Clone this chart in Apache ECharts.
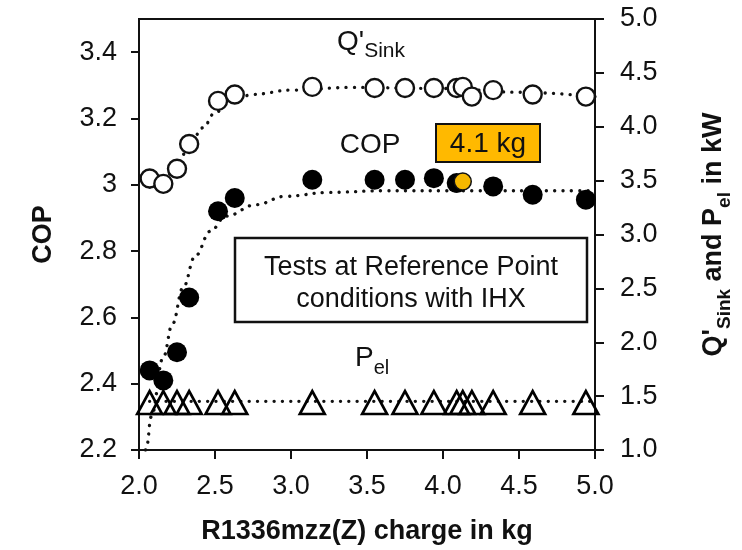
<!DOCTYPE html>
<html>
<head>
<meta charset="utf-8">
<script src="https://cdn.jsdelivr.net/npm/echarts@6/dist/echarts.min.js"></script>
<style>
  html, body { margin: 0; padding: 0; background: #fff; }
  #chart { width: 742px; height: 550px; }
</style>
</head>
<body>
<div id="chart"></div>
<script>
// measured points (charge in kg)
const charge = [2.07, 2.16, 2.25, 2.33, 2.52, 2.63, 3.14, 3.55, 3.75, 3.94, 4.09, 4.13, 4.19, 4.33, 4.59, 4.94]
const qSink = [3.52, 3.47, 3.61, 3.84, 4.24, 4.30, 4.37, 4.36, 4.36, 4.36, 4.36, 4.37, 4.28, 4.34, 4.30, 4.28]
const cop = [2.44, 2.41, 2.495, 2.66, 2.92, 2.96, 3.015, 3.015, 3.015, 3.02, 3.005, 3.01, null, 2.995, 2.97, 2.955]
const pEl = [1.44, 1.44, 1.44, 1.44, 1.44, 1.44, 1.44, 1.44, 1.44, 1.44, 1.44, 1.44, 1.44, 1.44, 1.44, 1.44]
const refIndex = 11 // the 4.1 kg point

// dotted trend lines
const qFitX = [2.07, 2.16, 2.25, 2.33, 2.42, 2.5, 2.6, 2.75, 3.0, 3.4, 4.0, 4.5, 5.0]
const qFitY = [3.44, 3.50, 3.64, 3.82, 3.99, 4.13, 4.23, 4.30, 4.34, 4.365, 4.355, 4.32, 4.28]
const copFitX = [2.03, 2.05, 2.08, 2.16, 2.22, 2.29, 2.37, 2.47, 2.57, 2.77, 2.96, 3.25, 3.6, 4.2, 4.8, 5.0]
const copFitY = [2.15, 2.21, 2.30, 2.48, 2.58, 2.69, 2.785, 2.86, 2.905, 2.94, 2.965, 2.977, 2.982, 2.982, 2.982, 2.982]
const pelFitX = [2.07, 5.0]
const pelFitY = [1.452, 1.452]

// axis ticks
const chargeTicks = [2.0, 2.5, 3.0, 3.5, 4.0, 4.5, 5.0]
const copTicks = [2.2, 2.4, 2.6, 2.8, 3.0, 3.2, 3.4]
const kwTicks = [1.0, 1.5, 2.0, 2.5, 3.0, 3.5, 4.0, 4.5, 5.0]

const font = "'Liberation Sans', Arial, sans-serif"
const ink = '#111'

const zip = (xs, ys) => xs.map((x, i) => [x, ys[i]])

const dotted = {
  color: ink,
  width: 3.3,
  type: [0.1, 8.2],
  cap: 'round'
}

const fitLine = (name, xs, ys, axis) => ({
  name,
  type: 'line',
  yAxisIndex: axis,
  data: zip(xs, ys),
  smooth: 0.4,
  smoothMonotone: 'x',
  showSymbol: false,
  symbol: 'none',
  lineStyle: dotted,
  z: 2,
  silent: true
})

const copData = charge.map((x, i) => {
  if (cop[i] == null) return null
  if (i === refIndex) {
    return {
      value: [x, cop[i]],
      symbolSize: 17,
      itemStyle: { color: '#F6B800', borderColor: ink, borderWidth: 1.5, opacity: 1 },
      z: 10
    }
  }
  return [x, cop[i]]
}).filter(d => d)

const chart = echarts.init(document.getElementById('chart'))

chart.setOption({
  animation: false,
  backgroundColor: '#fff',
  textStyle: { fontFamily: font },
  grid: {
    left: 139,
    right: 141,
    top: 19,
    bottom: 98,
    show: true,
    borderColor: ink,
    borderWidth: 2
  },
  xAxis: {
    type: 'value',
    min: 2,
    max: 5,
    interval: 0.5,
    name: 'R1336mzz(Z) charge in kg',
    nameLocation: 'middle',
    nameGap: 68,
    nameTextStyle: { fontSize: 27, fontWeight: 'bold', color: ink, fontFamily: font },
    axisLine: { lineStyle: { color: ink, width: 2 } },
    axisTick: { length: 9, lineStyle: { color: ink, width: 2 }, customValues: chargeTicks },
    axisLabel: {
      fontSize: 27, color: ink, margin: 23,
      customValues: chargeTicks,
      formatter: v => v.toFixed(1)
    },
    splitLine: { show: false }
  },
  yAxis: [{
    type: 'value',
    min: 2.2,
    max: 3.5,
    interval: 0.2,
    name: 'COP',
    nameLocation: 'middle',
    nameGap: 82,
    nameTextStyle: { fontSize: 27, fontWeight: 'bold', color: ink, fontFamily: font },
    axisLine: { lineStyle: { color: ink, width: 2 } },
    axisTick: { length: 8, lineStyle: { color: ink, width: 2 }, customValues: copTicks },
    axisLabel: {
      fontSize: 27, color: ink, margin: 22,
      customValues: copTicks,
      formatter: v => (Math.abs(v - 3) < 1e-9 ? '3' : v.toFixed(1))
    },
    splitLine: { show: false }
  }, {
    type: 'value',
    position: 'right',
    min: 1,
    max: 5,
    interval: 0.5,
    name: "{b|Q'}{s|Sink}{b| and P}{s|el}{b| in kW}",
    nameLocation: 'middle',
    nameGap: 99,
    nameRotate: 90,
    nameTextStyle: {
      rich: {
        b: { fontSize: 27, fontWeight: 'bold', color: ink, fontFamily: font, lineHeight: 40 },
        s: { fontSize: 19, fontWeight: 'bold', color: ink, fontFamily: font, lineHeight: 17, verticalAlign: 'bottom' }
      }
    },
    axisLine: { lineStyle: { color: ink, width: 2 } },
    axisTick: { length: 9, lineStyle: { color: ink, width: 2 }, customValues: kwTicks },
    axisLabel: {
      fontSize: 27, color: ink, margin: 25,
      customValues: kwTicks,
      formatter: v => v.toFixed(1)
    },
    splitLine: { show: false }
  }],
  series: [
    fitLine('Q fit', qFitX, qFitY, 1),
    fitLine('COP fit', copFitX, copFitY, 0),
    fitLine('Pel fit', pelFitX, pelFitY, 1),
    {
      name: "Q'Sink",
      type: 'scatter',
      yAxisIndex: 1,
      data: zip(charge, qSink),
      symbol: 'circle',
      symbolSize: 18,
      itemStyle: { color: '#fff', borderColor: ink, borderWidth: 2.4, opacity: 1 },
      z: 5
    },
    {
      name: 'COP',
      type: 'scatter',
      yAxisIndex: 0,
      data: copData,
      symbol: 'circle',
      symbolSize: 20,
      itemStyle: { color: '#000', opacity: 1 },
      z: 5
    },
    {
      name: 'Pel',
      type: 'scatter',
      yAxisIndex: 1,
      data: zip(charge, pEl),
      symbol: 'triangle',
      symbolSize: [25, 23],
      itemStyle: { color: 'rgba(0,0,0,0)', borderColor: '#000', borderWidth: 2.6, opacity: 1 },
      z: 5
    }
  ],
  graphic: [
    {
      type: 'text', x: 337, y: 42, z: 20,
      style: {
        text: "{b|Q'}{s|Sink}",
        textVerticalAlign: 'middle',
        rich: {
          b: { fontSize: 28, fill: ink, fontFamily: font, lineHeight: 40 },
          s: { fontSize: 21, fill: ink, fontFamily: font, lineHeight: 19, verticalAlign: 'bottom' }
        }
      }
    },
    {
      type: 'text', x: 370, y: 145, z: 20,
      style: { text: 'COP', fontSize: 28, fill: ink, fontFamily: font, textAlign: 'center', textVerticalAlign: 'middle' }
    },
    {
      type: 'text', x: 355, y: 358, z: 20,
      style: {
        text: '{b|P}{s|el}',
        textVerticalAlign: 'middle',
        rich: {
          b: { fontSize: 28, fill: ink, fontFamily: font, lineHeight: 40 },
          s: { fontSize: 20, fill: ink, fontFamily: font, lineHeight: 18, verticalAlign: 'bottom' }
        }
      }
    },
    {
      type: 'rect', z: 20,
      shape: { x: 436, y: 124, width: 104, height: 38 },
      style: { fill: '#FFB900', stroke: ink, lineWidth: 2 }
    },
    {
      type: 'text', x: 488, y: 144, z: 21,
      style: { text: '4.1 kg', fontSize: 28, fill: ink, fontFamily: font, textAlign: 'center', textVerticalAlign: 'middle' }
    },
    {
      type: 'rect', z: 20,
      shape: { x: 235, y: 238, width: 352, height: 84 },
      style: { fill: '#fff', stroke: ink, lineWidth: 2.5 }
    },
    {
      type: 'text', x: 411, y: 268, z: 21,
      style: { text: 'Tests at Reference Point', fontSize: 27, fill: ink, fontFamily: font, textAlign: 'center', textVerticalAlign: 'middle' }
    },
    {
      type: 'text', x: 411, y: 300, z: 21,
      style: { text: 'conditions with IHX', fontSize: 27, fill: ink, fontFamily: font, textAlign: 'center', textVerticalAlign: 'middle' }
    }
  ]
})
</script>
</body>
</html>
